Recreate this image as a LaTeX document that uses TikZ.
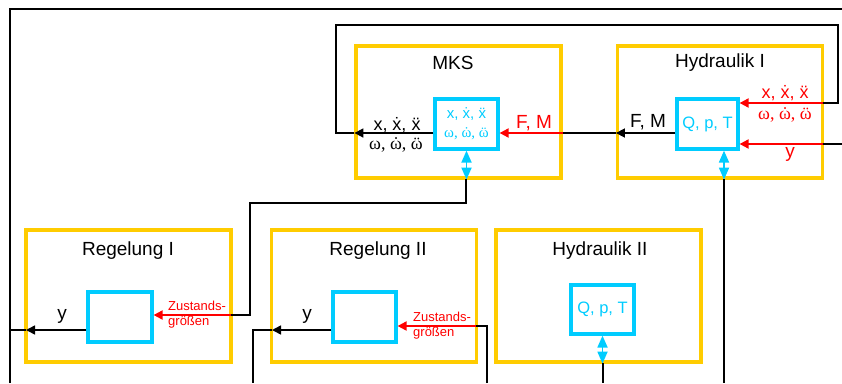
\documentclass[tikz,border=0pt]{standalone}
\usepackage{fontspec}
\setmainfont{Liberation Sans}
\newfontfamily\serif{Liberation Serif}
\usetikzlibrary{arrows.meta}
\definecolor{ylw}{RGB}{255,204,0}
\definecolor{cyn}{RGB}{0,204,255}
\newcommand{\myacc}[2]{\ooalign{#2\cr\hidewidth#1\hidewidth\cr}}
\newcommand{\xs}{x, x\char"0307, x\char"0308}
\newcommand{\ws}{{\serif ω, \myacc{˙}{ω}, \myacc{¨}{ω}}}
\begin{document}
\begin{tikzpicture}[x=1pt,y=-1pt,
  outerbox/.style={draw=ylw, line width=3.2pt, minimum width=205pt, minimum height=132pt, inner sep=0pt},
  innerbox/.style={draw=cyn, line width=3.2pt, minimum width=63pt, minimum height=50pt, inner sep=0pt, text=cyn},
  wire/.style={black, line width=1.6pt},
  arr/.style={wire, -{Triangle[length=9pt,width=9pt]}},
  redwire/.style={red, line width=1.9pt},
  redarr/.style={redwire, -{Triangle[length=9pt,width=9pt]}},
  dbl/.style={cyn, line width=1.8pt, {Triangle[length=12pt,width=10pt]}-{Triangle[length=12pt,width=10pt]}},
  ttl/.style={font=\fontsize{19}{21}\selectfont, inner sep=0pt},
  lbl/.style={font=\fontsize{18}{20}\selectfont, inner sep=0pt},
  small/.style={font=\fontsize{13}{15}\selectfont, inner sep=0pt, text=red, align=left, anchor=west}
]
\useasboundingbox (0,0) rectangle (842,383);

% coordinates
\coordinate (fBL) at (10,383);
\coordinate (fTL) at (10,9);
\coordinate (fTR) at (842,9);
\coordinate (lTL) at (336,25);
\coordinate (lTR) at (838,25);
\coordinate (lML) at (336,133);
\coordinate (lMR) at (838,103);
\coordinate (hR) at (823,103);
\coordinate (yR) at (842,144);
\coordinate (yB) at (823,144);
\coordinate (hB1) at (724,179);
\coordinate (hB2) at (724,383);
\coordinate (mB1) at (466,179);
\coordinate (mB2) at (466,203);
\coordinate (mB3) at (250,203);
\coordinate (mB4) at (250,315);
\coordinate (r1in) at (231,315);
\coordinate (r1out) at (26,330);
\coordinate (r2o1) at (253,330);
\coordinate (r2o2) at (253,383);
\coordinate (r2out) at (272,330);
\coordinate (r2i1) at (487,383);
\coordinate (r2i2) at (487,326);
\coordinate (r2in) at (476,326);
\coordinate (h2B1) at (603,363);
\coordinate (h2B2) at (603,383);

% wires under boxes
\draw[wire] (fBL) -- (fTL) -- (fTR);

% boxes
\node[outerbox] (mks) at (458.5,112) {};
\node[outerbox] (hyd1) at (720,112) {};
\node[outerbox] (reg1) at (128.5,296) {};
\node[outerbox] (reg2) at (374,296) {};
\node[outerbox] (hyd2) at (598.5,296) {};

\node[innerbox, align=center, font=\fontsize{15}{19}\selectfont] (mksc) at (466.5,124) {\xs\\\ws};
\node[innerbox, minimum width=61pt, font=\fontsize{16.5}{18}\selectfont] (hyd1c) at (707.5,124) {Q, p, T};
\node[innerbox, minimum width=64pt] (reg1c) at (120,317) {};
\node[innerbox] (reg2c) at (364.5,317) {};
\node[innerbox, minimum height=49pt, font=\fontsize{16.5}{18}\selectfont] (hyd2c) at (602.5,309.5) {Q, p, T};

% titles
\node[ttl] (tmks) at (453,63) {MKS};
\node[ttl] (thyd1) at (720,63) {Hydraulik I};
\node[ttl] (treg1) at (128,251) {Regelung I};
\node[ttl] (treg2) at (378,251) {Regelung II};
\node[ttl] (thyd2) at (600,251) {Hydraulik II};

% MKS output loop to Hydraulik I
\draw[arr] (mksc.west |- lML) -- (mks.west |- lML);
\draw[wire] (mks.west |- lML) -- (lML) -- (lTL) -- (lTR) -- (lMR) -- (hR);
\draw[redarr] (hR) -- (hyd1c.east |- hR);

% Hydraulik I output F,M to MKS
\draw[arr] (hyd1c.west |- lML) -- (hyd1.west |- lML);
\draw[wire] (hyd1.west |- lML) -- (mks.east |- lML);
\draw[redarr] (mks.east |- lML) -- (mksc.east |- lML);

% y input into Hydraulik I
\draw[wire] (yR) -- (yB);
\draw[redarr] (yB) -- (hyd1c.east |- yB);

% double arrows and downward wires
\draw[dbl] (hyd1c.south -| hB1) -- (hyd1.south -| hB1);
\draw[wire] (hB1) -- (hB2);
\draw[dbl] (mksc.south) -- (mks.south -| mksc.south);
\draw[wire] (mB1) -- (mB2) -- (mB3) -- (mB4) -- (r1in);
\draw[redarr] (r1in) -- (reg1c.east |- r1in);
\draw[dbl] (hyd2c.south) -- (hyd2.south -| hyd2c.south);
\draw[wire] (h2B1) -- (h2B2);

% Regelung I output
\draw[arr] (reg1c.west |- r1out) -- (r1out);
\draw[wire] (r1out) -- (fTL |- r1out);

% Regelung II
\draw[arr] (reg2c.west |- r2out) -- (r2out);
\draw[wire] (r2out) -- (r2o1) -- (r2o2);
\draw[wire] (r2i1) -- (r2i2) -- (r2in);
\draw[redarr] (r2in) -- (reg2c.east |- r2in);

% labels
\node[lbl] (lmx) at (397,125) {\xs};
\node[lbl] (lmw) at (396,147) {\ws};
\node[lbl, text=red, font=\fontsize{19}{21}\selectfont] (lfm1) at (534,123) {F, M};
\node[lbl, font=\fontsize{19}{21}\selectfont] (lfm2) at (648,122) {F, M};
\node[lbl, text=red] (lhx) at (785,93) {\xs};
\node[lbl, text=red] (lhw) at (785,117) {\ws};
\node[lbl, text=red, font=\fontsize{19}{21}\selectfont] (lhy) at (790,154) {y};
\node[lbl, font=\fontsize{19}{21}\selectfont] (lr1y) at (62,316) {y};
\node[lbl, font=\fontsize{19}{21}\selectfont] (lr2y) at (307,316) {y};
\node[small] (lz1) at (168,315) {Zustands-\\größen};
\node[small] (lz2) at (413,326) {Zustands-\\größen};
\end{tikzpicture}
\end{document}
